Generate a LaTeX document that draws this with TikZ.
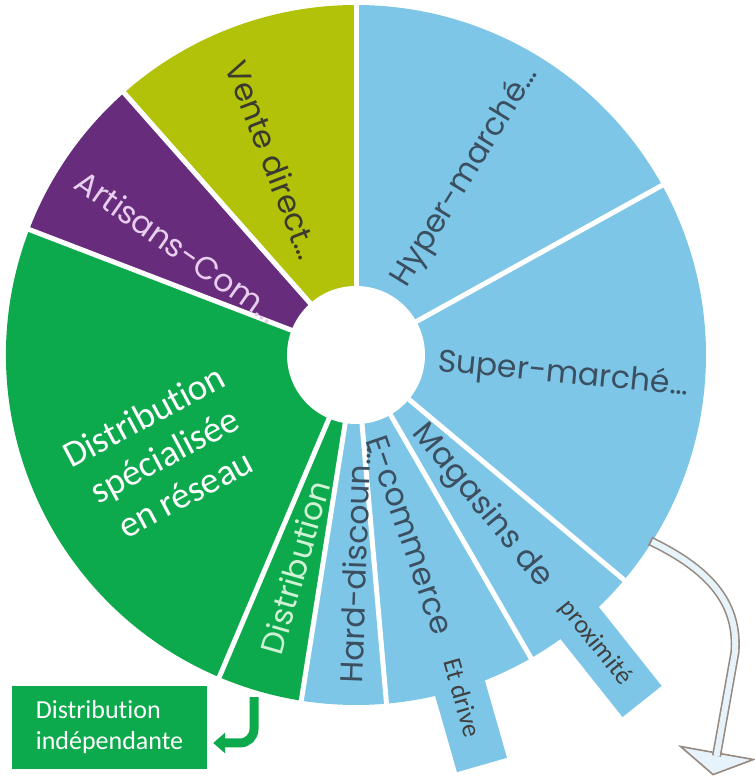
\documentclass[tikz,border=0pt]{standalone}
\usepackage{fontspec}
\setmainfont{Carlito}[Ligatures=NoCommon]
\newfontfamily\chartfont{Poppins}
\usetikzlibrary{arrows.meta}

\definecolor{skyblue}{HTML}{7DC6E7}
\definecolor{chartgreen}{HTML}{0CAA4C}
\definecolor{artisanpurple}{HTML}{682C7C}
\definecolor{ventegreen}{HTML}{B2C208}
\definecolor{labelgray}{HTML}{3C4F60}
\definecolor{ventegray}{HTML}{3B3A2E}
\definecolor{artisanpink}{HTML}{E7CDEE}
\definecolor{palegreen}{HTML}{CFF2D5}
\definecolor{calloutgray}{HTML}{404040}
\definecolor{arrowedge}{HTML}{968A80}
\definecolor{arrowfill}{HTML}{E6F3FB}

\begin{document}
\begin{tikzpicture}[x=1pt,y=1pt]
\tikzset{slice label/.style={font=\chartfont\fontsize{31.5}{33}\selectfont, text=labelgray, inner sep=0pt}}
\tikzset{callout/.style={fill=skyblue, inner sep=0pt, font=\fontsize{26}{28}\selectfont, text=calloutgray}}
\tikzset{separator/.style={white, line width=5pt}}
\useasboundingbox (0,0) rectangle (755,777);
\coordinate (C) at (356,422);
\foreach \from/\to/\col in {29/90/skyblue, -40/29/skyblue, -60/-40/skyblue, -85/-60/skyblue, -99/-85/skyblue, -113/-99/chartgreen, -201/-113/chartgreen, -228.5/-201/artisanpurple, -270/-228.5/ventegreen}
  \fill[\col] (C) -- ++(\from:350) arc[start angle=\from, end angle=\to, radius=350] -- cycle;
\node[callout, rotate=-74, minimum width=140pt, minimum height=52pt] (drive) at (462.7,79.3) {Et drive};
\node[callout, rotate=-51.5, minimum width=150pt, minimum height=50pt] (proxi) at (595.4,134.2) {proximité};
\foreach \a in {90,29,-40,-60,-85,-99,-113,159,131.5}
  \draw[separator] (C) -- ++(\a:353);
\fill[white] (C) circle[radius=69];
\node[slice label, rotate=58.5] (hyper) at ([shift={(58.5:209)}]C) {Hyper-marché…};
\node[slice label, rotate=-5.5] (super) at ([shift={(-5.5:208)}]C) {Super-marché…};
\node[slice label, rotate=-50.5] (magasins) at ([shift={(-50.3:197)}]C) {Magasins de};
\node[slice label, rotate=-71] (ecom) at ([shift={(-73.3:188)}]C) {E-commerce};
\node[slice label, rotate=88] (hard) at ([shift={(-90.3:210)}]C) {Hard-discoun…};
\node[slice label, rotate=74, text=palegreen] (distrib) at ([shift={(-106:221)}]C) {Distribution};
\node[slice label, rotate=-35, text=artisanpink] (artisans) at ([shift={(148.7:209)}]C) {Artisans-Com…};
\node[slice label, rotate=-69, text=ventegray] (vente) at ([shift={(113:212)}]C) {Vente direct…};
\node[font=\fontsize{37}{44}\selectfont, text=white, align=center, rotate=28] (reseau) at ([shift={(207.5:216)}]C) {Distribution\\spécialisée\\en réseau};
\node[fill=chartgreen, minimum width=195pt, minimum height=83pt, text=white, align=left, font=\fontsize{26}{31}\selectfont] (indep) at (109.5,49.5) {Distribution\\indépendante};
\coordinate (dfoot) at ([shift={(-106.6:357)}]C);
\draw[chartgreen, line width=9pt, rounded corners=14pt, -{Triangle[width=20pt,length=12pt]}] (dfoot) |- ([shift={(6,-15.5)}]indep.east);
\coordinate (sfoot) at ([shift={(-32.3:348)}]C);
\coordinate (bend) at (735,125);
\coordinate (hbase) at (717,24);
\coordinate (hl) at (680.6,30.5);
\coordinate (hr) at (753.4,17.5);
\coordinate (tip) at (713.1,2.4);
\filldraw[fill=arrowfill, draw=arrowedge, line width=1.6pt, line join=miter] (hl) -- (tip) -- (hr) -- cycle;
\draw[draw=arrowedge, double=arrowfill, line width=1.6pt, double distance=6pt] (sfoot) .. controls (715,205) and (738,170) .. (bend) -- ([shift={(-0.5,-3)}]hbase);
\draw[arrowedge, line width=1.6pt] ([shift={(2.7,3.8)}]sfoot) -- ([shift={(-1.3,-4.5)}]sfoot);
\end{tikzpicture}
\end{document}
